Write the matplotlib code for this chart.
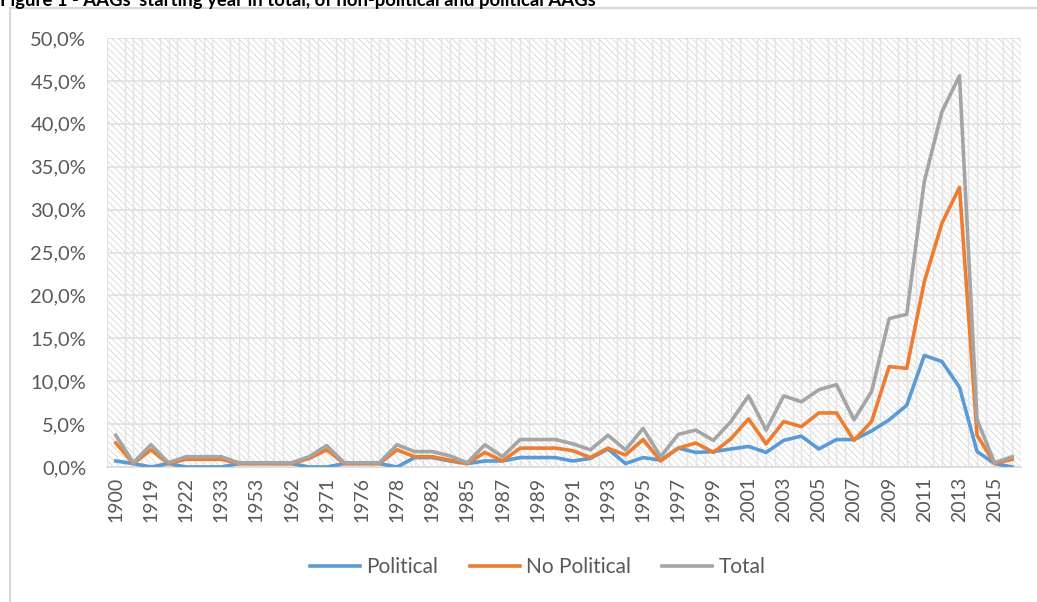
import matplotlib
matplotlib.use("Agg")
from matplotlib import pyplot as plt
from matplotlib.patches import Rectangle
from matplotlib.ticker import MultipleLocator, FuncFormatter
from matplotlib.lines import Line2D

# jaxon kategoriat (vain joka toinen näkyy akselilla)
years = ["1900", "1910", "1919", "1920", "1922", "1930", "1933", "1950", "1953", "1960",
         "1962", "1970", "1971", "1975", "1976", "1977", "1978", "1980", "1982", "1984",
         "1985", "1986", "1987", "1988", "1989", "1990", "1991", "1992", "1993", "1994",
         "1995", "1996", "1997", "1998", "1999", "2000", "2001", "2002", "2003", "2004",
         "2005", "2006", "2007", "2008", "2009", "2010", "2011", "2012", "2013", "2014",
         "2015", "2016"]

political = [0.7, 0.4, 0.0, 0.4, 0.0, 0.0, 0.0, 0.4, 0.4, 0.4,
             0.4, 0.0, 0.0, 0.4, 0.4, 0.4, 0.0, 1.1, 1.1, 0.7,
             0.4, 0.7, 0.7, 1.1, 1.1, 1.1, 0.7, 1.0, 2.1, 0.4,
             1.1, 0.8, 2.2, 1.7, 1.8, 2.1, 2.4, 1.7, 3.1, 3.6,
             2.1, 3.2, 3.2, 4.2, 5.5, 7.2, 13.0, 12.3, 9.3, 1.8,
             0.4, 0.0]

no_political = [2.8, 0.4, 2.0, 0.4, 0.9, 0.9, 0.9, 0.4, 0.4, 0.4,
                0.4, 1.0, 2.0, 0.4, 0.4, 0.4, 2.0, 1.2, 1.2, 0.8,
                0.4, 1.7, 0.7, 2.2, 2.2, 2.2, 1.9, 1.1, 2.2, 1.4,
                3.2, 0.7, 2.2, 2.8, 1.7, 3.3, 5.6, 2.7, 5.3, 4.7,
                6.3, 6.3, 3.1, 5.3, 11.7, 11.5, 21.6, 28.4, 32.6, 3.7,
                0.4, 0.9]

total = [3.7, 0.5, 2.6, 0.5, 1.2, 1.2, 1.2, 0.5, 0.5, 0.5,
         0.5, 1.2, 2.5, 0.5, 0.5, 0.5, 2.6, 1.8, 1.8, 1.3,
         0.5, 2.6, 1.2, 3.2, 3.2, 3.2, 2.7, 2.0, 3.7, 2.0,
         4.5, 1.2, 3.8, 4.3, 3.1, 5.3, 8.3, 4.3, 8.3, 7.6,
         9.0, 9.6, 5.5, 8.8, 17.3, 17.8, 33.3, 41.4, 45.6, 5.5,
         0.5, 1.2]

labels = ["Political", "No Political", "Total"]
colors = ["#5B9BD5", "#ED7D31", "#A5A5A5"]
grey_txt = "#595959"

plt.rcParams['font.family'] = ['Lato', 'DejaVu Sans']
plt.rcParams['hatch.linewidth'] = 0.6

fig = plt.figure(figsize=(10.37, 6.02), dpi=100)
ax = fig.add_axes([107/1037, 1-467/602, (1021-107)/1037, (467-38)/602])

# taustan vinoviivoitus
ax.add_patch(Rectangle((0, 0), 1, 1, transform=ax.transAxes, facecolor='white',
                       edgecolor='#d6d6d6', hatch='\\\\\\\\\\', linewidth=0, zorder=0))

x = list(range(len(years)))
for ys, c in zip([political, no_political, total], colors):
    ax.plot(x, ys, color=c, linewidth=2.6, solid_joinstyle='round', zorder=3)

ax.set_xlim(-0.5, len(years) - 0.5)
ax.set_ylim(0, 50)
ax.yaxis.set_major_locator(MultipleLocator(5))
ax.yaxis.set_major_formatter(FuncFormatter(lambda v, p: ("%.1f%%" % v).replace('.', ',')))
ax.set_xticks(x[::2])
ax.set_xticklabels(years[::2], rotation=90)
ax.xaxis.set_minor_locator(MultipleLocator(0.5))

ax.grid(True, axis='y', color='#e0e0e0', linewidth=1.2, zorder=1)
ax.grid(True, axis='x', which='minor', color='#e3e3e3', linewidth=1.0, zorder=1)
ax.set_axisbelow(True)

for s in ['top', 'right', 'left']:
    ax.spines[s].set_visible(False)
ax.spines['bottom'].set_color('#d9d9d9')
ax.spines['bottom'].set_linewidth(1.2)
ax.tick_params(axis='y', length=0, pad=15, labelsize=14.5, labelcolor=grey_txt)
ax.tick_params(axis='x', which='both', length=0, pad=7, labelsize=14, labelcolor=grey_txt)

handles = [Line2D([0], [0], color=c, linewidth=2.6) for c in colors]
fig.legend(handles, labels, loc='center', bbox_to_anchor=(538/1037, 1-567/602), ncol=3,
           frameon=False, fontsize=15, labelcolor=grey_txt, handlelength=2.4,
           handletextpad=0.3, columnspacing=1.5)

# otsikko leikkautuu kuvan yläreunasta kuten alkuperäisessä
fig.text(0.0, 1-6/602, "Figure 1 - AAGs' starting year in total, of non-political and political AAGs",
         fontsize=13.3, fontweight='bold', va='baseline', ha='left')

# kaavion kehys
fig.add_artist(Line2D([10/1037, 1], [1-8/602, 1-8/602], color='#d9d9d9', linewidth=1.5))
fig.add_artist(Line2D([10/1037, 10/1037], [0, 1-8/602], color='#d9d9d9', linewidth=1.5))

fig.savefig("out.png", dpi=100)
